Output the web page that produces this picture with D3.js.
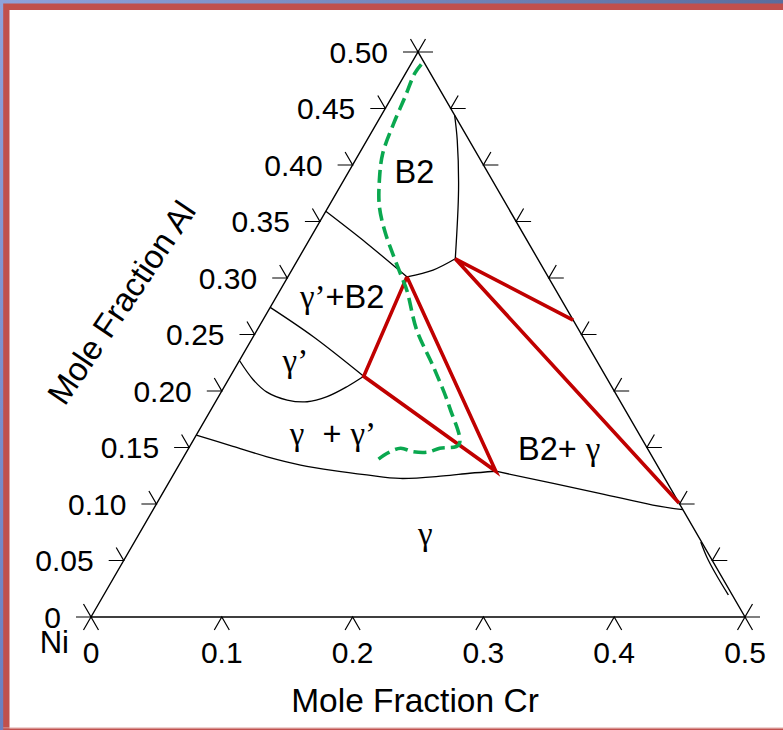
<!DOCTYPE html>
<html>
<head>
<meta charset="utf-8">
<script src="https://cdn.jsdelivr.net/npm/d3@7"></script>
<style>
  html, body { margin: 0; padding: 0; background: #fff; }
  svg text { font-family: "Liberation Sans", Arial, sans-serif; fill: #000; }
  .edge { fill: none; stroke: #000; stroke-width: 1.4; }
  .tick { fill: none; stroke: #000; stroke-width: 1.2; }
  .bound { fill: none; stroke: #000; stroke-width: 1.3; }
  .tie { fill: none; stroke: #c00000; stroke-width: 3.6; stroke-linejoin: miter; }
  .path-green { fill: none; stroke: #0aa84f; stroke-width: 3.6; stroke-dasharray: 13 6; }
  .gr { font-family: "Liberation Serif", "Times New Roman", serif; }
</style>
</head>
<body>
<div id="chart"></div>
<script>
// axis ticks (mole fractions)
var crTicks = [0, 0.1, 0.2, 0.3, 0.4, 0.5];
var crTickLabels = ["0", "0.1", "0.2", "0.3", "0.4", "0.5"];
var alTicks = [0, 0.05, 0.10, 0.15, 0.20, 0.25, 0.30, 0.35, 0.40, 0.45, 0.50];
var alTickLabels = ["0", "0.05", "0.10", "0.15", "0.20", "0.25", "0.30", "0.35", "0.40", "0.45", "0.50"];

// phase boundaries, points are [Cr, Al]
var b2Left = [[0, 0.359], [0.045, 0.331], [0.091, 0.301]];
var b2Bottom = [[0.091, 0.301], [0.108, 0.307], [0.120, 0.317]];
var b2Right = [[0.120, 0.317], [0.092, 0.378], [0.069, 0.422], [0.056, 0.444]];
var gpB2 = [[0, 0.274], [0.046, 0.248], [0.102, 0.213]];
var gpGgp = [[0, 0.227], [0.019, 0.210], [0.035, 0.199], [0.054, 0.192], [0.070, 0.1905],
             [0.083, 0.195], [0.094, 0.204], [0.102, 0.213]];
var gGgp = [[0, 0.161], [0.033, 0.151], [0.063, 0.142], [0.093, 0.1345], [0.121, 0.1295],
            [0.148, 0.1257], [0.175, 0.1226], [0.207, 0.1248], [0.226, 0.1272], [0.245, 0.129]];
var gB2g = [[0.245, 0.129], [0.334, 0.1095], [0.380, 0.0991], [0.405, 0.095]];
var sliver = [[0.433, 0.0664], [0.444, 0.0534], [0.458, 0.0387], [0.4775, 0.0195]];

// tie triangles
var tie1 = [[0.091, 0.301], [0.102, 0.213], [0.245, 0.129], [0.091, 0.301]];
var tie2 = [[0.2372, 0.2628], [0.120, 0.317], [0.3991, 0.1009]];

// diffusion path
var diffPath = [[0.008, 0.489], [0.007, 0.481], [0.010, 0.460], [0.013, 0.437], [0.018, 0.410],
                [0.027, 0.387], [0.039, 0.363], [0.055, 0.340], [0.072, 0.319], [0.087, 0.301],
                [0.097, 0.289], [0.122, 0.254], [0.151, 0.2215], [0.181, 0.186], [0.205, 0.1527],
                [0.192, 0.1493], [0.184, 0.1458], [0.173, 0.1463], [0.162, 0.1493], [0.154, 0.1449],
                [0.149, 0.1381]];

// phase field labels: [text, Cr, Al]
var regionLabels = [
    ["B2", 0.040, 0.384],
    ["γ’+B2", 0.023, 0.2735],
    ["γ’", 0.038, 0.217],
    ["γ  + γ’", 0.076, 0.152],
    ["B2+ γ", 0.257, 0.139],
    ["γ", 0.218, 0.064]
];


var width = 783, height = 730;

var svg = d3.select("#chart").append("svg")
    .attr("width", width)
    .attr("height", height);

// frame
var defs = svg.append("defs");
var grad = defs.append("linearGradient").attr("id", "topBlue");
grad.append("stop").attr("offset", "0%").attr("stop-color", "#8fa2dc");
grad.append("stop").attr("offset", "100%").attr("stop-color", "#5a6d9e");
var gradL = defs.append("linearGradient").attr("id", "leftBlue")
    .attr("x1", 0).attr("y1", 0).attr("x2", 0).attr("y2", 1);
gradL.append("stop").attr("offset", "0%").attr("stop-color", "#8fa2dc");
gradL.append("stop").attr("offset", "100%").attr("stop-color", "#6a7fc0");

svg.append("rect").attr("x", 0).attr("y", 0).attr("width", width).attr("height", height).attr("fill", "#fff");
svg.append("rect").attr("x", 0).attr("y", 0).attr("width", width).attr("height", 10).attr("fill", "#c0504d");
svg.append("rect").attr("x", 0).attr("y", 0).attr("width", 9.5).attr("height", height).attr("fill", "#c0504d");
svg.append("rect").attr("x", 0).attr("y", 0).attr("width", width).attr("height", 3.5).attr("fill", "url(#topBlue)");
svg.append("rect").attr("x", 0).attr("y", 727.5).attr("width", width).attr("height", 1).attr("fill", "#e0a8a6");
svg.append("rect").attr("x", 0).attr("y", 728.5).attr("width", width).attr("height", 1.5).attr("fill", "#c0504d");
svg.append("rect").attr("x", 0).attr("y", 0).attr("width", 3.2).attr("height", height).attr("fill", "url(#leftBlue)");

// scales: horizontal position uses Cr + Al/2, vertical uses Al
var x = d3.scaleLinear().domain([0, 0.5]).range([91, 745]);
var y = d3.scaleLinear().domain([0, 0.5]).range([617, 52]);
function px(d) { return x(d[0] + d[1] / 2); }
function py(d) { return y(d[1]); }

var smooth = d3.line().x(px).y(py).curve(d3.curveCatmullRom.alpha(0.5));
var straight = d3.line().x(px).y(py);

var g = svg.append("g");

// triangle edges
g.append("path").attr("class", "edge")
    .attr("d", straight([[0, 0], [0.5, 0], [0, 0.5], [0, 0]]));

// ticks
var tl = 15;
var c60 = 0.5, s60 = Math.sqrt(3) / 2;
var ticks = g.append("g");

// left edge (Al)
alTicks.forEach(function (a, i) {
    var ex = px([0, a]), ey = py([0, a]);
    ticks.append("path").attr("class", "tick")
        .attr("d", "M" + (ex - tl) + "," + ey + "L" + ex + "," + ey + "L" + (ex - tl * c60) + "," + (ey - tl * s60));
    g.append("text")
        .attr("x", ex - 30).attr("y", ey)
        .attr("dy", "0.36em")
        .attr("text-anchor", "end")
        .style("font-size", "30px")
        .text(alTickLabels[i]);
});

// right edge (Ni = 0.5)
alTicks.forEach(function (a) {
    var ex = px([0.5 - a, a]), ey = py([0.5 - a, a]);
    ticks.append("path").attr("class", "tick")
        .attr("d", "M" + (ex + tl) + "," + ey + "L" + ex + "," + ey + "L" + (ex + tl * c60) + "," + (ey - tl * s60));
});

// bottom edge (Cr)
crTicks.forEach(function (c, i) {
    var ex = px([c, 0]), ey = py([c, 0]);
    ticks.append("path").attr("class", "tick")
        .attr("d", "M" + (ex - tl * c60) + "," + (ey + tl * s60) + "L" + ex + "," + ey + "L" + (ex + tl * c60) + "," + (ey + tl * s60));
    g.append("text")
        .attr("x", ex).attr("y", 663)
        .attr("text-anchor", "middle")
        .style("font-size", "30px")
        .text(crTickLabels[i]);
});

g.append("text").attr("x", 69).attr("y", 653).attr("text-anchor", "end")
    .style("font-size", "31px").text("Ni");

// axis titles
g.append("text").attr("x", 415).attr("y", 712).attr("text-anchor", "middle")
    .style("font-size", "33.5px").text("Mole Fraction Cr");
g.append("text").attr("transform", "translate(131,309) rotate(-56)").attr("text-anchor", "middle")
    .style("font-size", "33px").text("Mole Fraction Al");

// phase boundaries
[b2Left, b2Bottom, b2Right, gpB2, gpGgp, gGgp, gB2g, sliver].forEach(function (b) {
    g.append("path").attr("class", "bound").attr("d", smooth(b));
});

// tie triangles
g.append("path").attr("class", "tie").attr("d", straight(tie1));
g.append("path").attr("class", "tie").attr("d", straight(tie2));

// diffusion path
g.append("path").attr("class", "path-green").attr("d", smooth(diffPath));

// region labels
regionLabels.forEach(function (r) {
    var t = g.append("text")
        .attr("x", px([r[1], r[2]])).attr("y", py([r[1], r[2]]))
        .style("font-size", "32.5px")
        .attr("xml:space", "preserve");
    // greek letters in serif, rest sans
    r[0].split(/(γ’?)/).forEach(function (part) {
        if (!part) return;
        var ts = t.append("tspan").text(part);
        if (part.charAt(0) === "γ") ts.attr("class", "gr").style("font-size", "33px");
    });
});
</script>
</body>
</html>
